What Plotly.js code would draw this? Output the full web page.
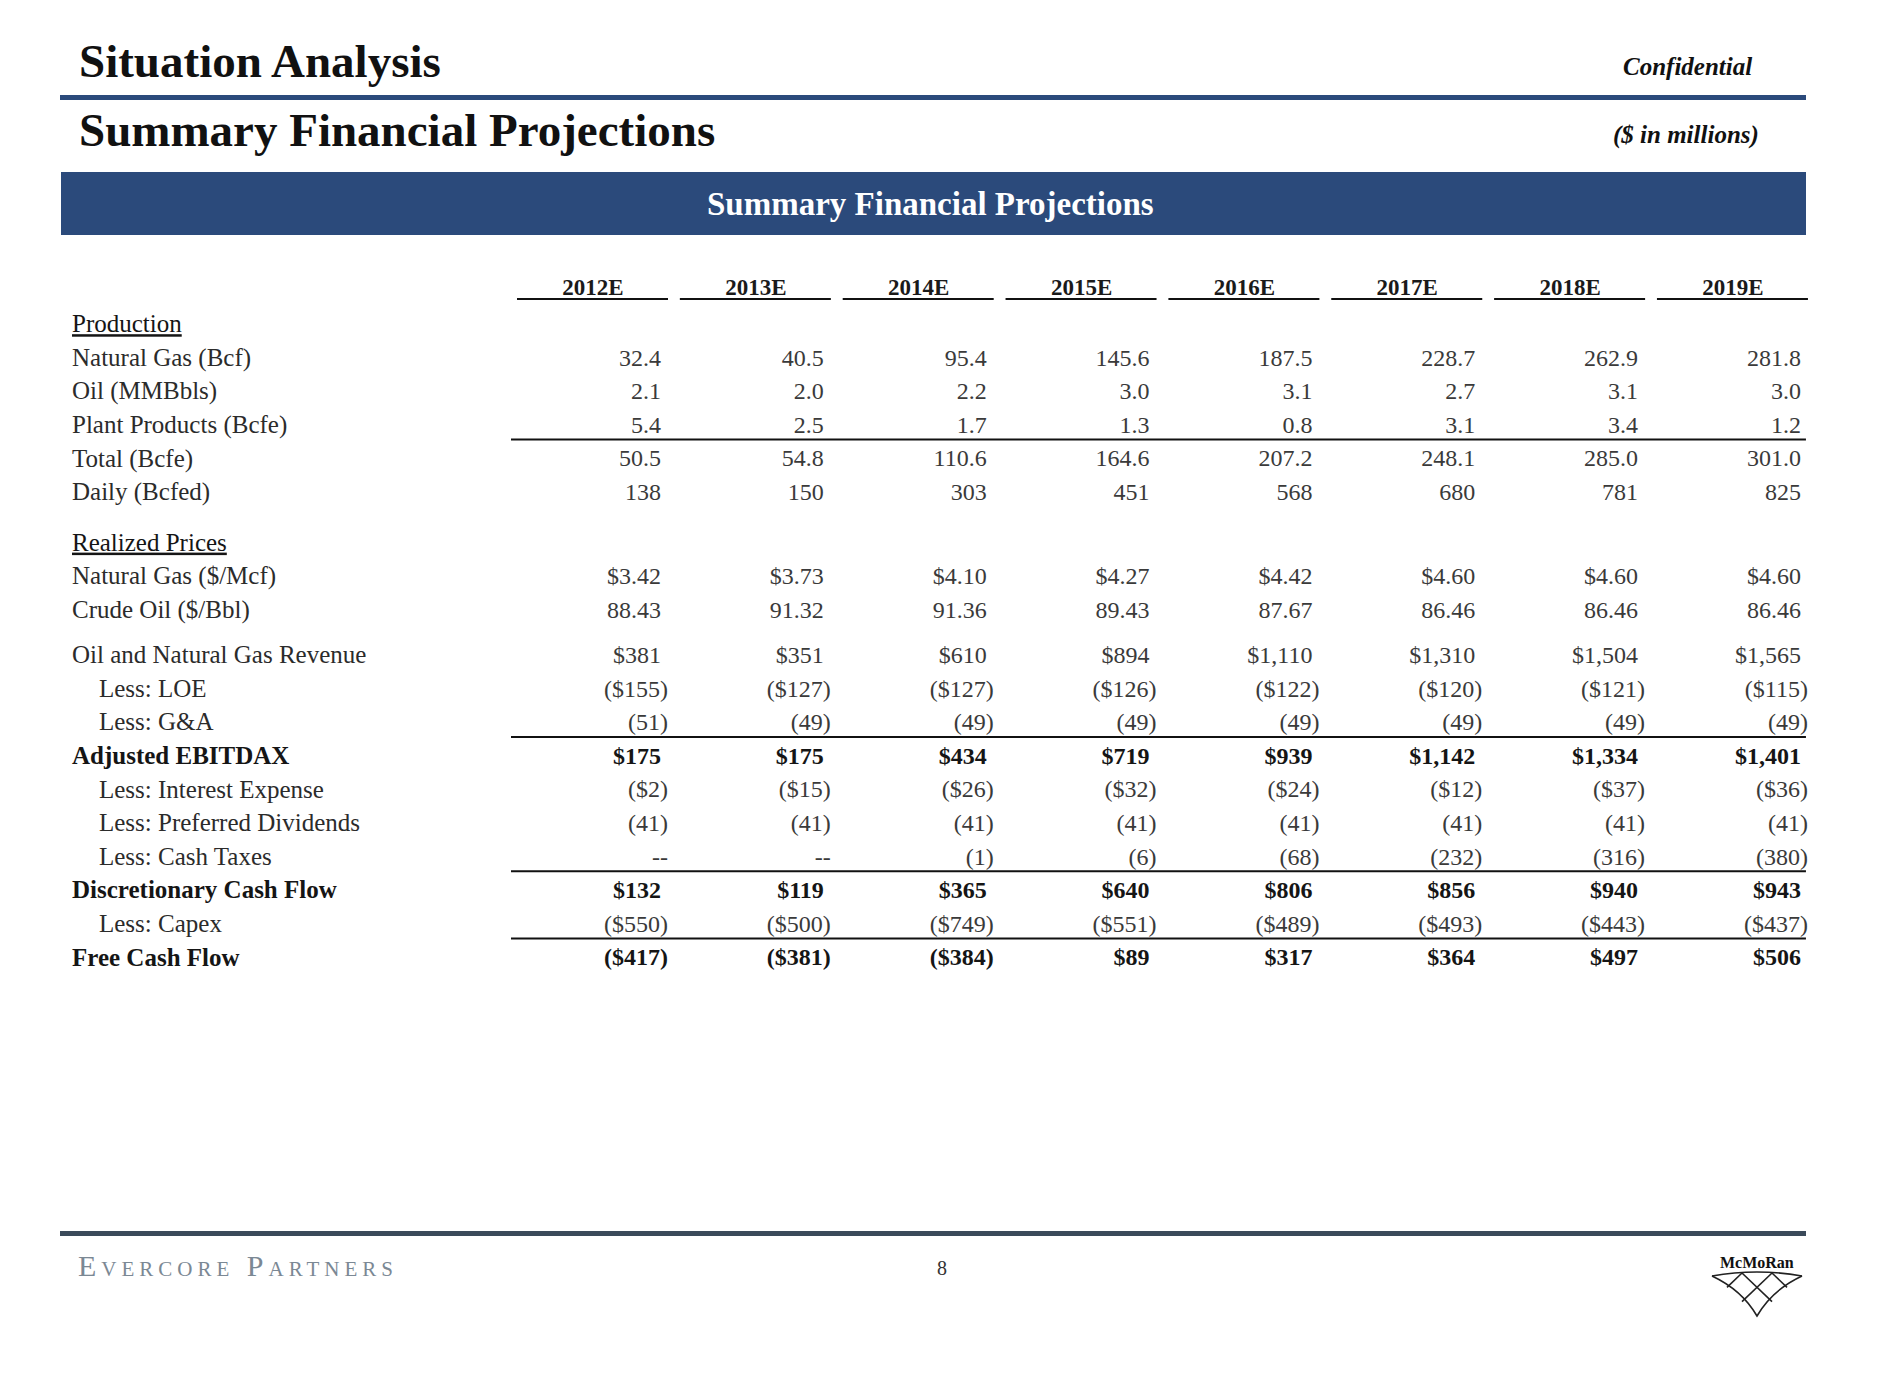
<!DOCTYPE html>
<html>
<head>
<meta charset="utf-8">
<script src="https://cdn.plot.ly/plotly-3.0.1.min.js"></script>
<style>
  html, body { margin: 0; padding: 0; background: #ffffff; }
  #chart { width: 1884px; height: 1373px; }
</style>
</head>
<body>
<div id="chart"></div>
<script>
// ---------------- DATA ----------------
const years = ['2012E', '2013E', '2014E', '2015E', '2016E', '2017E', '2018E', '2019E'];

const rowLabels = [
  'Production',
  'Natural Gas (Bcf)',
  'Oil (MMBbls)',
  'Plant Products (Bcfe)',
  'Total (Bcfe)',
  'Daily (Bcfed)',
  'Realized Prices',
  'Natural Gas ($/Mcf)',
  'Crude Oil ($/Bbl)',
  'Oil and Natural Gas Revenue',
  'Less: LOE',
  'Less: G&A',
  'Adjusted EBITDAX',
  'Less: Interest Expense',
  'Less: Preferred Dividends',
  'Less: Cash Taxes',
  'Discretionary Cash Flow',
  'Less: Capex',
  'Free Cash Flow'
];

const natGasBcf        = [32.4, 40.5, 95.4, 145.6, 187.5, 228.7, 262.9, 281.8];
const oilMMBbls        = [2.1, 2.0, 2.2, 3.0, 3.1, 2.7, 3.1, 3.0];
const plantProducts    = [5.4, 2.5, 1.7, 1.3, 0.8, 3.1, 3.4, 1.2];
const totalBcfe        = [50.5, 54.8, 110.6, 164.6, 207.2, 248.1, 285.0, 301.0];
const dailyBcfed       = [138, 150, 303, 451, 568, 680, 781, 825];
const gasPrice         = [3.42, 3.73, 4.10, 4.27, 4.42, 4.60, 4.60, 4.60];
const oilPrice         = [88.43, 91.32, 91.36, 89.43, 87.67, 86.46, 86.46, 86.46];
const revenue          = [381, 351, 610, 894, 1110, 1310, 1504, 1565];
const loe              = [-155, -127, -127, -126, -122, -120, -121, -115];
const gAndA            = [-51, -49, -49, -49, -49, -49, -49, -49];
const ebitdax          = [175, 175, 434, 719, 939, 1142, 1334, 1401];
const interestExpense  = [-2, -15, -26, -32, -24, -12, -37, -36];
const preferredDiv     = [-41, -41, -41, -41, -41, -41, -41, -41];
const cashTaxes        = [0, 0, -1, -6, -68, -232, -316, -380];
const discretionaryCF  = [132, 119, 365, 640, 806, 856, 940, 943];
const capex            = [-550, -500, -749, -551, -489, -493, -443, -437];
const freeCashFlow     = [-417, -381, -384, 89, 317, 364, 497, 506];

// ---------------- FORMATTERS ----------------
const comma = v => Math.round(v).toString().replace(/\B(?=(\d{3})+(?!\d))/g, ',');
const f1 = v => v.toFixed(1);
const f0 = v => String(v);
const d2 = v => '$' + v.toFixed(2);
const p2 = v => v.toFixed(2);
const d0 = v => v < 0 ? '($' + comma(-v) + ')' : (v === 0 ? '--' : '$' + comma(v));
const p0 = v => v < 0 ? '(' + comma(-v) + ')' : (v === 0 ? '--' : comma(v));

// row structure (style / format / spacing), values come from the arrays above
const rowSpec = [
  { kind: 'section', gap: 1.1 },
  { values: natGasBcf, fmt: f1 },
  { values: oilMMBbls, fmt: f1 },
  { values: plantProducts, fmt: f1, rule: true },
  { values: totalBcfe, fmt: f1 },
  { values: dailyBcfed, fmt: f0 },
  { kind: 'section', gap: 1.5 },
  { values: gasPrice, fmt: d2 },
  { values: oilPrice, fmt: p2 },
  { values: revenue, fmt: d0, gap: 1.35 },
  { values: loe, fmt: d0, indent: true },
  { values: gAndA, fmt: p0, indent: true, rule: true },
  { values: ebitdax, fmt: d0, bold: true },
  { values: interestExpense, fmt: d0, indent: true },
  { values: preferredDiv, fmt: p0, indent: true },
  { values: cashTaxes, fmt: p0, indent: true, rule: true },
  { values: discretionaryCF, fmt: d0, bold: true },
  { values: capex, fmt: d0, indent: true, rule: true },
  { values: freeCashFlow, fmt: d0, bold: true }
];

// ---------------- PAGE GEOMETRY ----------------
const W = 1884, H = 1373;
const COL_PX = 162.85, COL1_PX = 661;   // column pitch and right edge of first value column
const ROW_PX = 33.6, ROW0_PX = 289;     // row pitch and header row centre
const xu = px => 1 + (px - COL1_PX) / COL_PX;
const PX = px => px / W;
const PY = py => 1 - py / H;
const PT = (px, py) => PX(px).toFixed(5) + ' ' + PY(py).toFixed(5);

const SERIF = '"Liberation Serif", "Times New Roman", serif';
const NAVY = '#2b4a7b';

// row positions (in row units, header row = 0)
let yAcc = 0;
const rowY = rowSpec.map(r => { yAcc += (r.gap !== undefined ? r.gap : 1); return yAcc; });

// ---------------- TRACES ----------------
const labelX = xu(72), indentX = xu(99);
const groups = { normal: [], indent: [], bold: [], section: [] };
rowSpec.forEach((r, i) => {
  const g = r.kind === 'section' ? 'section' : r.bold ? 'bold' : r.indent ? 'indent' : 'normal';
  groups[g].push(i);
});

function labelTrace(idx, x, weight, color, under) {
  const tf = { family: SERIF, size: 25, color: color, weight: weight };
  if (under) tf.lineposition = 'under';
  return {
    type: 'scatter', mode: 'text', x: idx.map(() => x), y: idx.map(i => rowY[i]),
    text: idx.map(i => rowLabels[i]), textposition: 'middle right',
    textfont: tf, hoverinfo: 'skip', showlegend: false, cliponaxis: false
  };
}

const traces = [
  labelTrace(groups.normal, labelX, 'normal', '#2b2b2b', false),
  labelTrace(groups.indent, indentX, 'normal', '#2b2b2b', false),
  labelTrace(groups.bold, labelX, 'bold', '#151515', false),
  labelTrace(groups.section, labelX, 'normal', '#151515', true)
];

// year headers
traces.push({
  type: 'scatter', mode: 'text',
  x: years.map((_, k) => (k + 1) - 68 / COL_PX), y: years.map(() => 0),
  text: years, textposition: 'middle center',
  textfont: { family: SERIF, size: 23, color: '#1a1a1a', weight: 'bold' },
  hoverinfo: 'skip', showlegend: false, cliponaxis: false
});

// values: positives aligned on digits, negatives / dashes hang the closing paren
const parenShift = 7 / COL_PX;
const pos = { x: [], y: [], t: [], c: [] }, neg = { x: [], y: [], t: [], c: [] };
rowSpec.forEach((r, i) => {
  if (!r.values) return;
  r.values.forEach((v, k) => {
    const s = r.fmt(v);
    const tgt = (s.startsWith('(') || s === '--') ? neg : pos;
    tgt.x.push((k + 1) + (tgt === neg ? parenShift : 0));
    tgt.y.push(rowY[i]);
    tgt.t.push(r.bold ? '<b>' + s + '</b>' : s);
    tgt.c.push(r.bold ? '#151515' : '#3a3a3a');
  });
});
[pos, neg].forEach(g => traces.push({
  type: 'scatter', mode: 'text', x: g.x, y: g.y, text: g.t,
  textposition: 'middle left',
  textfont: { family: SERIF, size: 24, color: g.c },
  hoverinfo: 'skip', showlegend: false, cliponaxis: false
}));

// ---------------- SHAPES ----------------
const shapes = [];
// year header underlines
years.forEach((_, k) => shapes.push({
  type: 'line', xref: 'x', yref: 'y',
  x0: (k + 1) - 144 / COL_PX, x1: (k + 1) + 7 / COL_PX, y0: 0.3, y1: 0.3,
  line: { color: '#111', width: 2 }
}));
// subtotal rules
rowSpec.forEach((r, i) => {
  if (!r.rule) return;
  shapes.push({
    type: 'line', xref: 'x', yref: 'y',
    x0: 1 - 150 / COL_PX, x1: 8 + 5 / COL_PX, y0: rowY[i] + 0.38, y1: rowY[i] + 0.38,
    line: { color: '#111', width: 2 }
  });
});
// page decorations
shapes.push({ type: 'rect', xref: 'paper', yref: 'paper', x0: PX(60), x1: PX(1806), y0: PY(100), y1: PY(95),
  fillcolor: NAVY, line: { width: 0 } });
shapes.push({ type: 'rect', xref: 'paper', yref: 'paper', x0: PX(61), x1: PX(1806), y0: PY(235), y1: PY(172),
  fillcolor: NAVY, line: { width: 0 } });
shapes.push({ type: 'rect', xref: 'paper', yref: 'paper', x0: PX(60), x1: PX(1806), y0: PY(1236), y1: PY(1231),
  fillcolor: '#3b4a5a', line: { width: 0 } });

// McMoRan logo lattice
const TL = [1712, 1276], TR = [1802, 1276], BOT = [1757, 1316];
const logoLine = { color: '#222', width: 1.6 };
shapes.push({ type: 'path', xref: 'paper', yref: 'paper', line: logoLine,
  path: 'M ' + PT(TL[0], TL[1]) + ' Q ' + PT(1757, 1268) + ' ' + PT(TR[0], TR[1]) });
shapes.push({ type: 'path', xref: 'paper', yref: 'paper', line: logoLine,
  path: 'M ' + PT(TL[0], TL[1]) + ' Q ' + PT(1742, 1290) + ' ' + PT(BOT[0], BOT[1]) +
        ' Q ' + PT(1772, 1290) + ' ' + PT(TR[0], TR[1]) });
[1 / 3, 2 / 3].forEach(t => {
  const sx = TL[0] + (TR[0] - TL[0]) * t, sy = 1273;
  const u1 = (1 - t);
  shapes.push({ type: 'line', xref: 'paper', yref: 'paper', line: logoLine,
    x0: PX(sx), y0: PY(sy), x1: PX(sx + (BOT[0] - TL[0]) * u1), y1: PY(sy + (BOT[1] - sy) * u1) });
  const u2 = t;
  shapes.push({ type: 'line', xref: 'paper', yref: 'paper', line: logoLine,
    x0: PX(sx), y0: PY(sy), x1: PX(sx + (BOT[0] - TR[0]) * u2), y1: PY(sy + (BOT[1] - sy) * u2) });
});

// ---------------- ANNOTATIONS ----------------
const ann = (text, x, y, font, xanchor) => ({
  text: text, xref: 'paper', yref: 'paper', x: PX(x), y: PY(y),
  xanchor: xanchor || 'left', yanchor: 'middle', showarrow: false, font: font
});
const annotations = [
  ann('Situation Analysis', 77, 61, { family: SERIF, size: 47, color: '#111', weight: 'bold' }),
  ann('Summary Financial Projections', 77, 130, { family: SERIF, size: 47, color: '#111', weight: 'bold' }),
  ann('Confidential', 1687, 67, { family: SERIF, size: 25, color: '#111', weight: 'bold', style: 'italic' }, 'center'),
  ann('($ in millions)', 1686, 135, { family: SERIF, size: 25, color: '#111', weight: 'bold', style: 'italic' }, 'center'),
  ann('Summary Financial Projections', 930, 204, { family: SERIF, size: 33, color: '#ffffff', weight: 'bold' }, 'center'),
  ann('<span style="letter-spacing:5px">Evercore Partners</span>', 76, 1265,
      { family: SERIF, size: 30, color: '#7b8894', variant: 'small-caps' }),
  ann('8', 942, 1268, { family: SERIF, size: 20, color: '#333' }, 'center'),
  ann('McMoRan', 1757, 1262, { family: SERIF, size: 16, color: '#111', weight: 'bold' }, 'center')
];

// ---------------- LAYOUT ----------------
const layout = {
  width: W, height: H,
  margin: { l: 0, r: 0, t: 0, b: 0, pad: 0 },
  paper_bgcolor: '#ffffff', plot_bgcolor: '#ffffff',
  showlegend: false,
  xaxis: { range: [xu(0), xu(W)], visible: false, fixedrange: true },
  yaxis: { range: [(H - ROW0_PX) / ROW_PX, -ROW0_PX / ROW_PX], visible: false, fixedrange: true },
  shapes: shapes,
  annotations: annotations
};

Plotly.newPlot('chart', traces, layout, { displayModeBar: false, staticPlot: true });
</script>
</body>
</html>
